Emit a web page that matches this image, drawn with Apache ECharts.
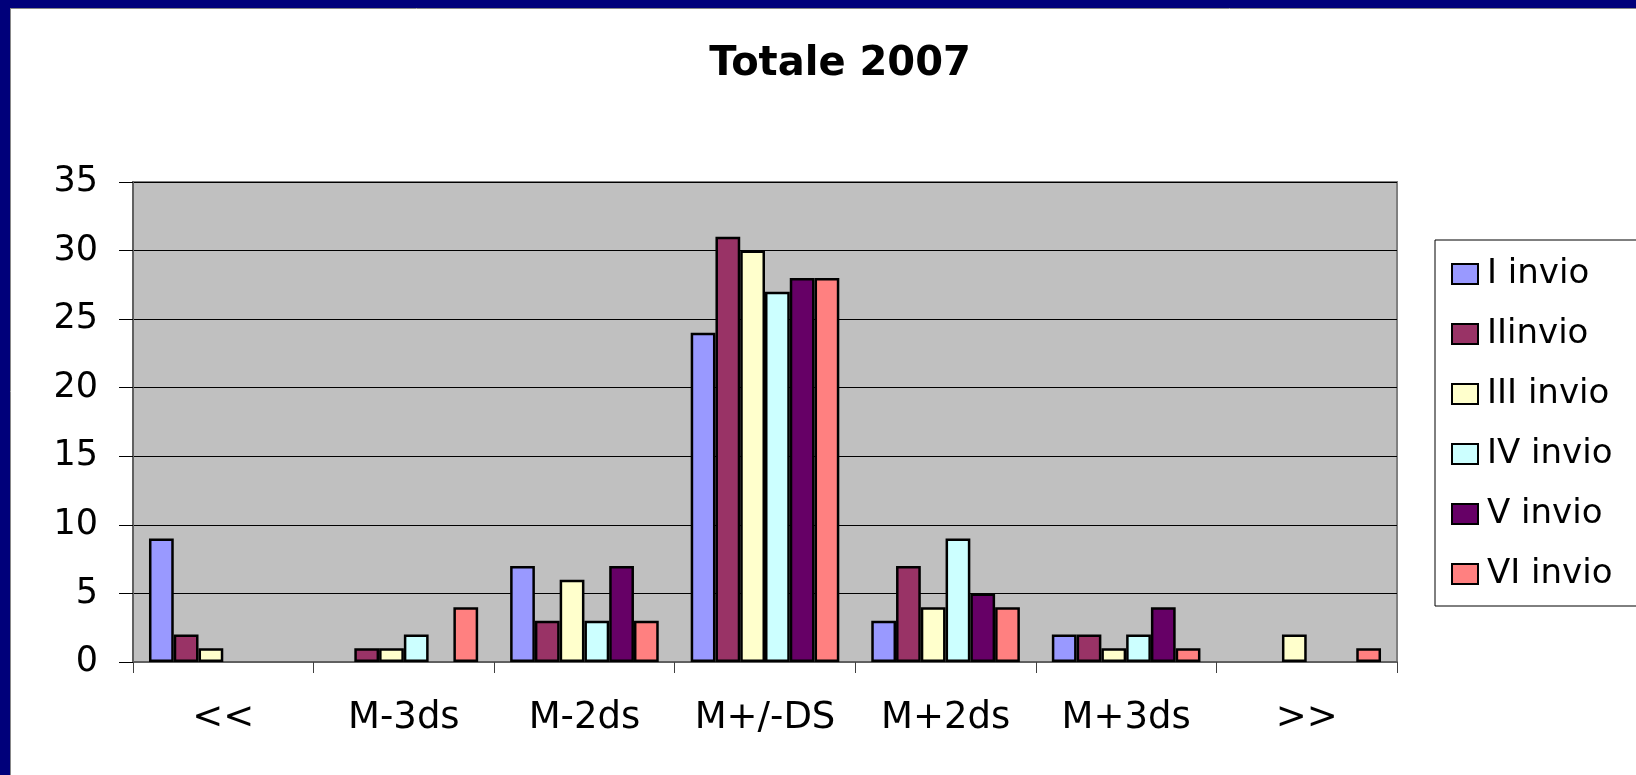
<!DOCTYPE html>
<html>
<head>
<meta charset="utf-8">
<script src="https://cdn.jsdelivr.net/npm/echarts@6/dist/echarts.min.js"></script>
<style>
  html, body { margin: 0; padding: 0; background: #fff; }
  #chart { width: 1636px; height: 775px; }
</style>
</head>
<body>
<div id="chart"></div>
<script>
// Categories and per-series counts.
const categories = ['<<', 'M-3ds', 'M-2ds', 'M+/-DS', 'M+2ds', 'M+3ds', '>>'];
const seriesNames = ['I invio', 'IIinvio', 'III invio', 'IV invio', 'V invio', 'VI invio'];
const seriesColors = ['#9999ff', '#993366', '#ffffcc', '#ccffff', '#660066', '#ff8080'];

const invio1 = [9, 0, 7, 24, 3, 2, 0];
const invio2 = [2, 1, 3, 31, 7, 2, 0];
const invio3 = [1, 1, 6, 30, 4, 1, 2];
const invio4 = [0, 2, 3, 27, 9, 2, 0];
const invio5 = [0, 0, 7, 28, 5, 4, 0];
const invio6 = [0, 4, 3, 28, 4, 1, 1];
const seriesData = [invio1, invio2, invio3, invio4, invio5, invio6];

// the source slide is stretched sideways, a wide face gets closer than Arial
const FONT = '"DejaVu Sans", "Liberation Sans", Arial, sans-serif';
const NAVY = '#00007a';

const chart = echarts.init(document.getElementById('chart'), null, { renderer: 'canvas' });

const series = seriesNames.map((name, i) => ({
    name,
    type: 'bar',
    barGap: '0%',
    barCategoryGap: '17.7%',
    // empty cells in the sheet: no bar at all
    data: seriesData[i].map((v) => (v === 0 ? '-' : v)),
    itemStyle: { color: seriesColors[i], borderColor: '#000', borderWidth: 2.5 },
    emphasis: { disabled: true },
}));

chart.setOption({
    animation: false,
    backgroundColor: '#fff',
    textStyle: { fontFamily: FONT },
    title: {
        text: 'Totale 2007',
        left: 835,
        top: 40,
        textAlign: 'center',
        textStyle: { fontFamily: FONT, fontSize: 40, fontWeight: 'bold', color: '#000' },
    },
    graphic: [
        // slide frame: navy band across the top and down the left side
        { type: 'rect', shape: { x: 0, y: 0, width: 1636, height: 8 }, style: { fill: NAVY }, z: 100 },
        { type: 'rect', shape: { x: 0, y: 0, width: 10, height: 775 }, style: { fill: NAVY }, z: 100 },
        { type: 'line', shape: { x1: 10, y1: 8.5, x2: 1636, y2: 8.5 }, style: { stroke: '#888', lineWidth: 1 }, z: 100 },
        { type: 'line', shape: { x1: 10.5, y1: 8, x2: 10.5, y2: 775 }, style: { stroke: '#888', lineWidth: 1 }, z: 100 },
    ],
    legend: {
        orient: 'vertical',
        left: 1435,
        top: 240,
        padding: [17, 60, 15, 16],
        itemGap: 26,
        itemWidth: 26,
        itemHeight: 20,
        icon: 'rect',
        borderColor: '#000',
        borderWidth: 1,
        backgroundColor: '#fff',
        selectedMode: false,
        textStyle: { fontFamily: FONT, fontSize: 34, color: '#000', lineHeight: 34, padding: [0, 0, 0, 4] },
    },
    grid: {
        left: 133,
        top: 182,
        right: 239,
        bottom: 113,
        show: true,
        backgroundColor: '#c0c0c0',
        borderColor: '#808080',
        borderWidth: 2,
    },
    xAxis: {
        type: 'category',
        data: categories,
        boundaryGap: true,
        axisLine: { lineStyle: { color: '#606060', width: 2 } },
        axisTick: { show: true, interval: 0, alignWithLabel: false, length: 11, lineStyle: { color: '#404040', width: 1 } },
        axisLabel: { interval: 0, color: '#000', fontFamily: FONT, fontSize: 37, margin: 38 },
    },
    yAxis: {
        type: 'value',
        min: 0,
        max: 35,
        interval: 5,
        axisLine: { show: true, lineStyle: { color: '#606060', width: 2 } },
        axisTick: { show: true, length: 14, lineStyle: { color: '#000', width: 1 } },
        axisLabel: { color: '#000', fontFamily: FONT, fontSize: 35, margin: 35 },
        splitLine: { lineStyle: { color: '#000', width: 1 } },
    },
    series,
});
</script>
</body>
</html>
